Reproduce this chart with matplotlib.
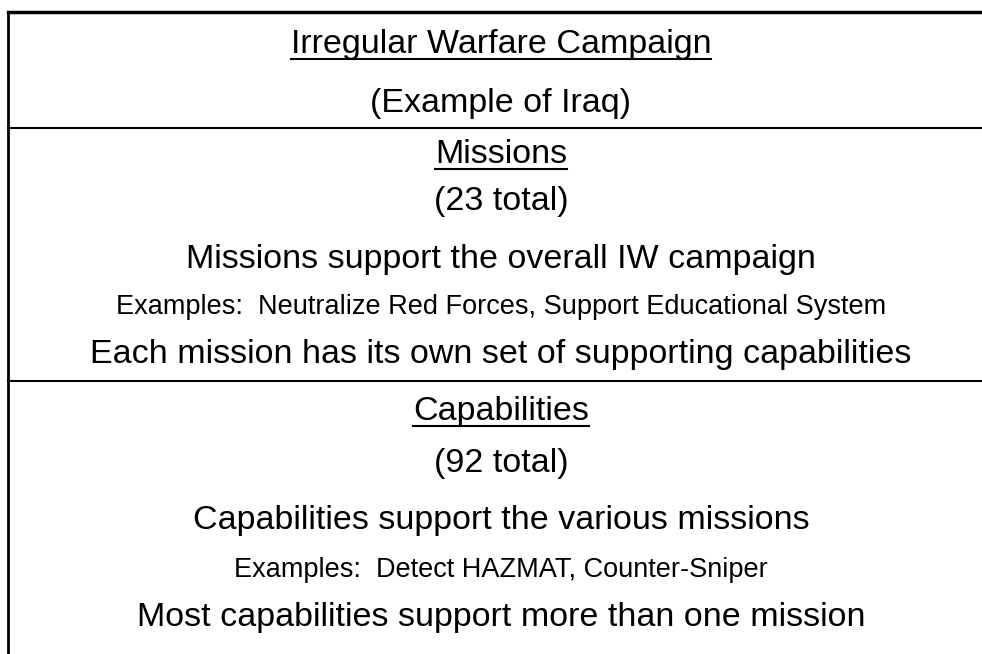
import matplotlib.pyplot as plt

# text rows of the diagram
campaign_rows = ["Irregular Warfare Campaign", "(Example of Iraq)"]
mission_rows = ["Missions", "(23 total)",
                "Missions support the overall IW campaign",
                "Examples:  Neutralize Red Forces, Support Educational System",
                "Each mission has its own set of supporting capabilities"]
capability_rows = ["Capabilities", "(92 total)",
                   "Capabilities support the various missions",
                   "Examples:  Detect HAZMAT, Counter-Sniper",
                   "Most capabilities support more than one mission"]

plt.rcParams['font.family'] = ['Liberation Sans', 'DejaVu Sans']

fig = plt.figure(figsize=(9.82, 6.54), dpi=100)
ax = fig.add_axes([0, 0, 1, 1])
ax.set_xlim(0, 982)
ax.set_ylim(654, 0)
ax.axis('off')

big = 24.5
small = 19.5
cx = 501

def row(y, s, size=big, underline=False):
    t = ax.text(cx, y, s, fontsize=size, ha='center', va='baseline', color='black')
    if underline:
        fig.canvas.draw()
        bb = t.get_window_extent().transformed(ax.transData.inverted())
        ax.plot([bb.x0, bb.x1], [y + 6, y + 6], color='black', lw=1.5)

# frame: top, left, separators
ax.plot([8, 982], [12, 12], color='black', lw=2.5)
ax.plot([8, 8], [12, 654], color='black', lw=2)
ax.plot([8, 982], [128, 128], color='black', lw=1.5)
ax.plot([8, 982], [381, 381], color='black', lw=1.5)

row(53, campaign_rows[0], underline=True)
row(112, campaign_rows[1])

ys = [163, 210, 268, 314, 363]
for i, (y, s) in enumerate(zip(ys, mission_rows)):
    row(y, s, size=small if i == 3 else big, underline=(i == 0))

ys = [420, 472, 529, 577, 626]
for i, (y, s) in enumerate(zip(ys, capability_rows)):
    row(y, s, size=small if i == 3 else big, underline=(i == 0))

fig.savefig('out.png', dpi=100)
